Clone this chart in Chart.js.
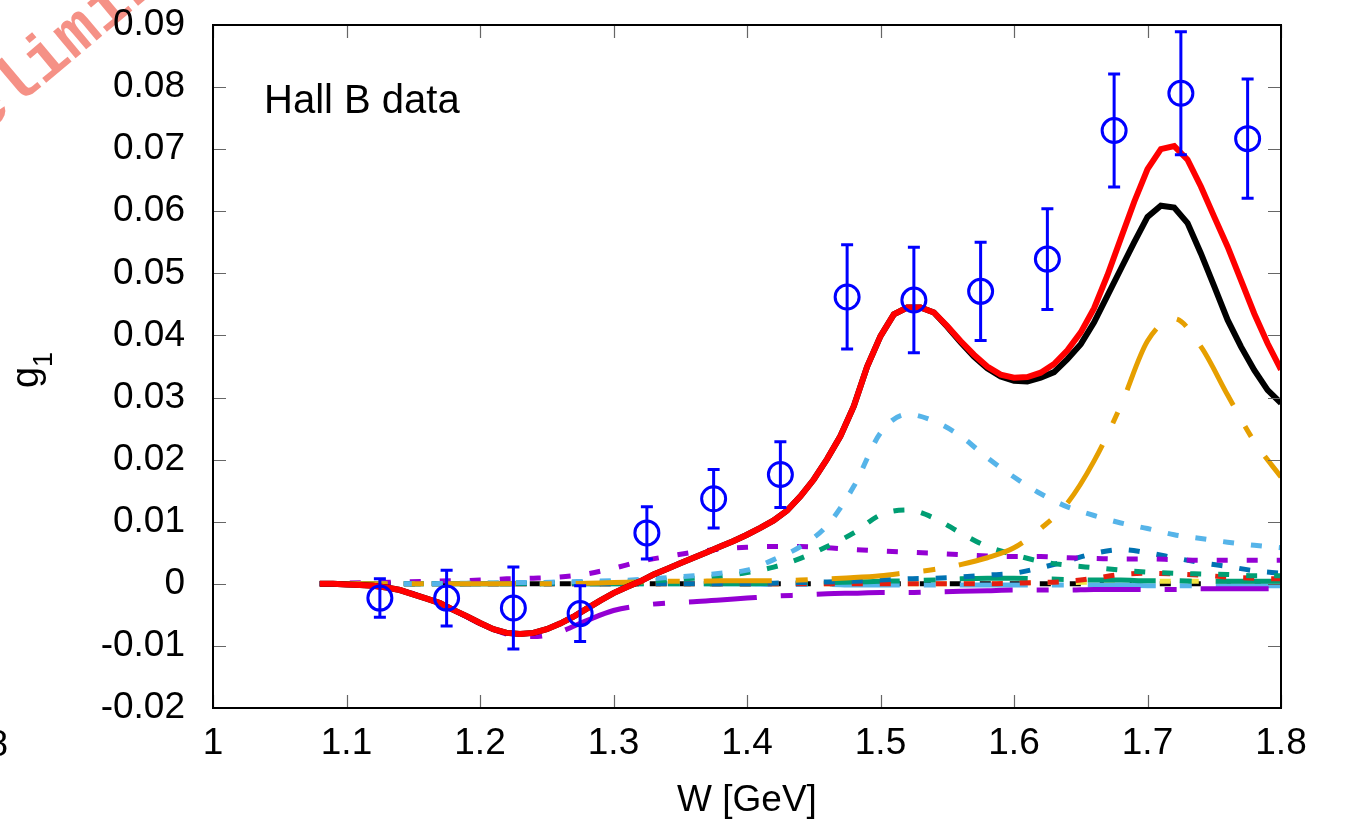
<!DOCTYPE html>
<html>
<head>
<meta charset="utf-8">
<script src="https://cdn.jsdelivr.net/npm/chart.js@4.4.1/dist/chart.umd.min.js"></script>
<style>
  html, body { margin: 0; padding: 0; background: #fff; }
  #wrap { width: 1345px; height: 826px; }
</style>
</head>
<body>
<div id="wrap"><canvas id="g1Chart" width="1345" height="826"></canvas></div>
<script>
// Hall B data points
const wData   = [1.125, 1.175, 1.225, 1.275, 1.325, 1.375, 1.425, 1.475, 1.525, 1.575, 1.625, 1.675, 1.725, 1.775];
const g1Data  = [-0.0023, -0.0023, -0.0039, -0.0048, 0.0082, 0.0137, 0.0176, 0.0462, 0.0457, 0.0471, 0.0523, 0.0730, 0.0790, 0.0717];
const g1Err   = [0.0031, 0.0045, 0.0066, 0.0045, 0.0042, 0.0047, 0.0053, 0.0084, 0.0085, 0.0079, 0.0081, 0.0091, 0.0099, 0.0096];

// fine W grid for the two totals
const wFine = [1.08, 1.09, 1.10, 1.11, 1.12, 1.13, 1.14, 1.15, 1.16, 1.17,
               1.18, 1.19, 1.20, 1.21, 1.22, 1.23, 1.24, 1.25, 1.26, 1.27,
               1.28, 1.29, 1.30, 1.31, 1.32, 1.33, 1.34, 1.35, 1.36, 1.37,
               1.38, 1.39, 1.40, 1.41, 1.42, 1.43, 1.44, 1.45, 1.46, 1.47,
               1.48, 1.49, 1.50, 1.51, 1.52, 1.53, 1.54, 1.55, 1.56, 1.57,
               1.58, 1.59, 1.60, 1.61, 1.62, 1.63, 1.64, 1.65, 1.66, 1.67,
               1.68, 1.69, 1.70, 1.71, 1.72, 1.73, 1.74, 1.75, 1.76, 1.77,
               1.78, 1.79, 1.80];
const totalRed = [0.0000, 0.0000, -0.0001, -0.0002, -0.0003, -0.0006, -0.0010, -0.0017, -0.0024, -0.0031,
                  -0.0042, -0.0052, -0.0063, -0.0073, -0.0079, -0.0081, -0.0079, -0.0073, -0.0064, -0.0053,
                  -0.0040, -0.0027, -0.0015, -0.0005, 0.0004, 0.0015, 0.0024, 0.0033, 0.0042, 0.0051,
                  0.0060, 0.0069, 0.0079, 0.0090, 0.0102, 0.0118, 0.0141, 0.0168, 0.0201, 0.0238,
                  0.0286, 0.0350, 0.0399, 0.0434, 0.0445, 0.0445, 0.0437, 0.0415, 0.0391, 0.0369,
                  0.0350, 0.0337, 0.0332, 0.0333, 0.0340, 0.0354, 0.0376, 0.0405, 0.0444, 0.0497,
                  0.0556, 0.0615, 0.0668, 0.0700, 0.0705, 0.0683, 0.0640, 0.0591, 0.0543, 0.0489,
                  0.0435, 0.0387, 0.0345];
const totalBlack = [0.0000, 0.0000, -0.0001, -0.0002, -0.0003, -0.0006, -0.0010, -0.0017, -0.0024, -0.0031,
                    -0.0042, -0.0052, -0.0063, -0.0073, -0.0079, -0.0081, -0.0079, -0.0073, -0.0064, -0.0053,
                    -0.0040, -0.0027, -0.0015, -0.0005, 0.0004, 0.0015, 0.0024, 0.0033, 0.0042, 0.0051,
                    0.0060, 0.0069, 0.0079, 0.0090, 0.0102, 0.0118, 0.0141, 0.0168, 0.0201, 0.0238,
                    0.0286, 0.0350, 0.0399, 0.0434, 0.0445, 0.0445, 0.0437, 0.0414, 0.0389, 0.0366,
                    0.0347, 0.0334, 0.0327, 0.0326, 0.0332, 0.0341, 0.0362, 0.0386, 0.0421, 0.0464,
                    0.0507, 0.0550, 0.0591, 0.0609, 0.0606, 0.0581, 0.0532, 0.0479, 0.0425, 0.0382,
                    0.0344, 0.0312, 0.0291];

// coarse W grid for the single contributions
const wCoarse = [1.08, 1.10, 1.12, 1.14, 1.16, 1.18, 1.20, 1.22, 1.24, 1.26,
                 1.28, 1.30, 1.32, 1.34, 1.36, 1.38, 1.40, 1.42, 1.44, 1.46,
                 1.48, 1.50, 1.52, 1.54, 1.56, 1.58, 1.60, 1.62, 1.64, 1.66,
                 1.68, 1.70, 1.72, 1.74, 1.76, 1.78, 1.80];
const skyDotted = [0, 0, 0, 0, 0, 0.0001, 0.0001, 0.0002, 0.0002, 0.0003,
                   0.0004, 0.0005, 0.0007, 0.0010, 0.0013, 0.0017, 0.0022, 0.0039, 0.0060, 0.0094,
                   0.0157, 0.0243, 0.0273, 0.0262, 0.0238, 0.0203, 0.0172, 0.0145, 0.0124, 0.0110,
                   0.0098, 0.0089, 0.0079, 0.0073, 0.0067, 0.0062, 0.0058];
const greenDotted = [0, 0, 0, 0, 0, 0, 0.0001, 0.0001, 0.0001, 0.0002,
                     0.0002, 0.0003, 0.0004, 0.0006, 0.0009, 0.0012, 0.0018, 0.0027, 0.0041, 0.0060,
                     0.0082, 0.0111, 0.0119, 0.0106, 0.0082, 0.0060, 0.0047, 0.0036, 0.0030, 0.0026,
                     0.0022, 0.0019, 0.0017, 0.0016, 0.0015, 0.0013, 0.0013];
const purpleDotted = [0, 0.0001, 0.0002, 0.0003, 0.0004, 0.0005, 0.0006, 0.0008, 0.0009, 0.0011,
                      0.0016, 0.0025, 0.0036, 0.0044, 0.0051, 0.0056, 0.0059, 0.0060, 0.0060, 0.0058,
                      0.0055, 0.0053, 0.0051, 0.0049, 0.0047, 0.0045, 0.0044, 0.0044, 0.0042, 0.0041,
                      0.0040, 0.0040, 0.0039, 0.0038, 0.0038, 0.0038, 0.0038];
const purpleDashDot = [0, -0.0001, -0.0003, -0.0009, -0.0024, -0.0042, -0.0064, -0.0081, -0.0085, -0.0077,
                       -0.0059, -0.0043, -0.0035, -0.0031, -0.0029, -0.0026, -0.0023, -0.0020, -0.0018, -0.0016,
                       -0.0015, -0.0014, -0.0014, -0.0013, -0.0012, -0.0011, -0.0010, -0.0010, -0.0010, -0.0009,
                       -0.0009, -0.0009, -0.0009, -0.0008, -0.0008, -0.0008, -0.0008];
const orangeDashDot = [0, 0, 0, 0, 0, 0, 0, 0, 0, 0,
                       0.0001, 0.0002, 0.0003, 0.0004, 0.0004, 0.0005, 0.0005, 0.0005, 0.0006, 0.0008,
                       0.0010, 0.0013, 0.0018, 0.0023, 0.0031, 0.0042, 0.0058, 0.0089, 0.0130, 0.0198,
                       0.0287, 0.0391, 0.0427, 0.0382, 0.0304, 0.0229, 0.0172];
const blueDotted = [0, 0, 0, 0, 0, 0, 0, 0, 0, 0,
                    0, 0, 0, 0, 0, 0, 0, 0.0001, 0.0002, 0.0003,
                    0.0004, 0.0006, 0.0008, 0.0009, 0.0011, 0.0014, 0.0017, 0.0026, 0.0037, 0.0049,
                    0.0055, 0.0050, 0.0042, 0.0034, 0.0028, 0.0021, 0.0017];
const redDotted = [0, 0, 0, 0, 0, 0, 0, 0, 0, 0,
                   0, 0, 0, 0, 0, 0, 0, 0, 0, 0,
                   0, 0, 0, 0, 0, 0, 0.0001, 0.0002, 0.0004, 0.0009,
                   0.0015, 0.0017, 0.0016, 0.0014, 0.0011, 0.0009, 0.0008];
const greenDashDot = [0, 0, 0, 0, 0, 0, 0, 0, 0, 0,
                      0, 0, 0, 0, 0, 0, 0, 0.0001, 0.0001, 0.0002,
                      0.0003, 0.0004, 0.0005, 0.0006, 0.0008, 0.0009, 0.0009, 0.0008, 0.0007, 0.0006,
                      0.0006, 0.0005, 0.0005, 0.0004, 0.0004, 0.0004, 0.0004];
const skyDashDot = [0, 0, 0, 0, 0, 0, 0, 0, 0, 0,
                    0, 0, 0, 0, 0, 0, 0, -0.0001, -0.0001, -0.0001,
                    -0.0002, -0.0002, -0.0002, -0.0002, -0.0002, -0.0002, -0.0002, -0.0002, -0.0002, -0.0002,
                    -0.0002, -0.0003, -0.0003, -0.0003, -0.0003, -0.0003, -0.0003];
const yellowDotted = [0, 0, 0, 0, 0, 0, 0, 0, 0, 0,
                      0, 0, 0, 0, 0, 0, 0, 0, 0, 0,
                      0, 0, 0, 0, 0, 0, 0.0001, 0.0002, 0.0002, 0.0003,
                      0.0004, 0.0004, 0.0004, 0.0004, 0.0004, 0.0003, 0.0003];
const blackDotted = [0, 0, 0, 0, 0, 0, 0, 0, 0, 0,
                     0, 0, 0, 0, 0, 0, 0, 0, 0, 0,
                     0, 0, 0, 0, 0, 0, 0, 0, 0, 0,
                     0, 0, 0, 0, 0, 0, 0];

const yTicks = [-0.02, -0.01, 0, 0.01, 0.02, 0.03, 0.04, 0.05, 0.06, 0.07, 0.08, 0.09];
const xTicks = [1, 1.1, 1.2, 1.3, 1.4, 1.5, 1.6, 1.7, 1.8];

const FONT = "'Liberation Sans', Arial, sans-serif";
const DOT = [11, 17];
const DASHDOT = [68, 24, 12, 24];

function pts(xs, ys) {
    return xs.map((x, i) => ({ x: x, y: ys[i] }));
}

function curve(data, color, dash, width) {
    return {
        type: 'line',
        data: data,
        borderColor: color,
        borderWidth: width,
        borderDash: dash,
        pointRadius: 0,
        fill: false,
        cubicInterpolationMode: 'monotone'
    };
}

// error bars, inner ticks, frame and free text
const gnuplotLook = {
    id: 'gnuplotLook',
    beforeDraw(chart) {
        const ctx = chart.ctx;
        ctx.save();
        // watermark
        ctx.fillStyle = 'rgba(242,118,104,0.8)';
        ctx.font = "bold 66px 'Liberation Mono', 'DejaVu Sans Mono', monospace";
        ctx.translate(-78, 187);
        ctx.rotate(-40 * Math.PI / 180);
        ctx.textBaseline = 'alphabetic';
        ctx.fillText('Preliminary', 0, 0);
        ctx.restore();

        ctx.save();
        ctx.fillStyle = '#000';
        ctx.font = '37px ' + FONT;
        ctx.textAlign = 'right';
        ctx.textBaseline = 'middle';
        ctx.fillText('8', 8, 746);
        ctx.restore();
    },
    afterDatasetsDraw(chart) {
        const ctx = chart.ctx;
        const xs = chart.scales.x, ys = chart.scales.y;
        ctx.save();
        ctx.strokeStyle = '#0000ff';
        ctx.lineWidth = 3;
        wData.forEach((w, i) => {
            const px = xs.getPixelForValue(w);
            const top = ys.getPixelForValue(g1Data[i] + g1Err[i]);
            const bot = ys.getPixelForValue(g1Data[i] - g1Err[i]);
            ctx.beginPath();
            ctx.moveTo(px, top); ctx.lineTo(px, bot);
            ctx.moveTo(px - 6, top); ctx.lineTo(px + 6, top);
            ctx.moveTo(px - 6, bot); ctx.lineTo(px + 6, bot);
            ctx.stroke();
        });
        ctx.restore();
    },
    afterDraw(chart) {
        const ctx = chart.ctx;
        const a = chart.chartArea;
        const xs = chart.scales.x, ys = chart.scales.y;
        ctx.save();
        ctx.strokeStyle = '#666';
        ctx.lineWidth = 1.2;
        ctx.beginPath();
        yTicks.forEach(v => {
            const py = Math.round(ys.getPixelForValue(v)) + 0.5;
            ctx.moveTo(a.left, py); ctx.lineTo(a.left + 13, py);
            ctx.moveTo(a.right, py); ctx.lineTo(a.right - 13, py);
        });
        xTicks.forEach(v => {
            const px = Math.round(xs.getPixelForValue(v)) + 0.5;
            ctx.moveTo(px, a.bottom); ctx.lineTo(px, a.bottom - 13);
            ctx.moveTo(px, a.top); ctx.lineTo(px, a.top + 13);
        });
        ctx.stroke();
        ctx.strokeStyle = '#000';
        ctx.lineWidth = 2;
        ctx.strokeRect(a.left, a.top, a.right - a.left, a.bottom - a.top);

        ctx.fillStyle = '#000';
        ctx.font = '40px ' + FONT;
        ctx.textAlign = 'left';
        ctx.textBaseline = 'middle';
        ctx.fillText('Hall B data', 264, 102);

        ctx.font = '37px ' + FONT;
        ctx.textAlign = 'center';
        ctx.fillText('W [GeV]', (a.left + a.right) / 2, 801);

        ctx.translate(38, 388);
        ctx.rotate(-Math.PI / 2);
        ctx.textAlign = 'left';
        ctx.textBaseline = 'alphabetic';
        ctx.font = '38px ' + FONT;
        ctx.fillText('g', 0, 0);
        ctx.font = '27px ' + FONT;
        ctx.fillText('1', 21, 14);
        ctx.restore();
    }
};

const ctx = document.getElementById('g1Chart').getContext('2d');
const myChart = new Chart(ctx, {
    type: 'scatter',
    data: {
        datasets: [
            {
                label: 'Hall B data',
                data: pts(wData, g1Data),
                pointStyle: 'circle',
                pointRadius: 12,
                pointBorderWidth: 3,
                borderColor: '#0000ff',
                backgroundColor: 'rgba(0,0,0,0)',
                showLine: false
            },
            Object.assign(curve(pts(wFine, totalRed), '#ff0000', [], 6), { cubicInterpolationMode: 'default', tension: 0 }),
            Object.assign(curve(pts(wFine, totalBlack), '#000000', [], 6), { cubicInterpolationMode: 'default', tension: 0 }),
            curve(pts(wCoarse, purpleDashDot), '#9400d3', DASHDOT, 5),
            curve(pts(wCoarse, orangeDashDot), '#e69f00', DASHDOT, 5),
            curve(pts(wCoarse, skyDotted), '#56b4e9', DOT, 5),
            curve(pts(wCoarse, greenDotted), '#009e73', DOT, 5),
            curve(pts(wCoarse, purpleDotted), '#9400d3', [11, 19], 5),
            curve(pts(wCoarse, blueDotted), '#0072b2', DOT, 5),
            curve(pts(wCoarse, redDotted), '#e51e10', DOT, 5),
            curve(pts(wCoarse, greenDashDot), '#009e73', DASHDOT, 5),
            curve(pts(wCoarse, skyDashDot), '#56b4e9', DASHDOT, 5),
            curve(pts(wCoarse, yellowDotted), '#f0e442', DOT, 5),
            curve(pts(wCoarse, blackDotted), '#000000', [11, 19], 5)
        ]
    },
    options: {
        responsive: false,
        animation: false,
        devicePixelRatio: 1,
        layout: { padding: { left: 0, right: 64, top: 25, bottom: 0 } },
        plugins: {
            legend: { display: false },
            tooltip: { enabled: false }
        },
        scales: {
            x: {
                type: 'linear',
                min: 1,
                max: 1.8,
                afterFit: s => {
                    s.height = 118;
                    s.paddingLeft = 0; s.paddingRight = 0;
                },
                afterBuildTicks: s => { s.ticks = xTicks.map(v => ({ value: v })); },
                grid: { display: false, drawTicks: false },
                border: { display: false },
                ticks: {
                    color: '#000',
                    font: { family: FONT, size: 37 },
                    padding: 14,
                    maxRotation: 0,
                    callback: v => String(Math.round(v * 10) / 10)
                }
            },
            y: {
                type: 'linear',
                min: -0.02,
                max: 0.09,
                afterFit: s => {
                    s.width = 213;
                    s.paddingTop = 0; s.paddingBottom = 0;
                },
                afterBuildTicks: s => { s.ticks = yTicks.map(v => ({ value: v })); },
                grid: { display: false, drawTicks: false },
                border: { display: false },
                ticks: {
                    color: '#000',
                    font: { family: FONT, size: 37 },
                    padding: 28,
                    callback: v => String(Math.round(v * 100) / 100)
                }
            }
        }
    },
    plugins: [gnuplotLook]
});
</script>
</body>
</html>
